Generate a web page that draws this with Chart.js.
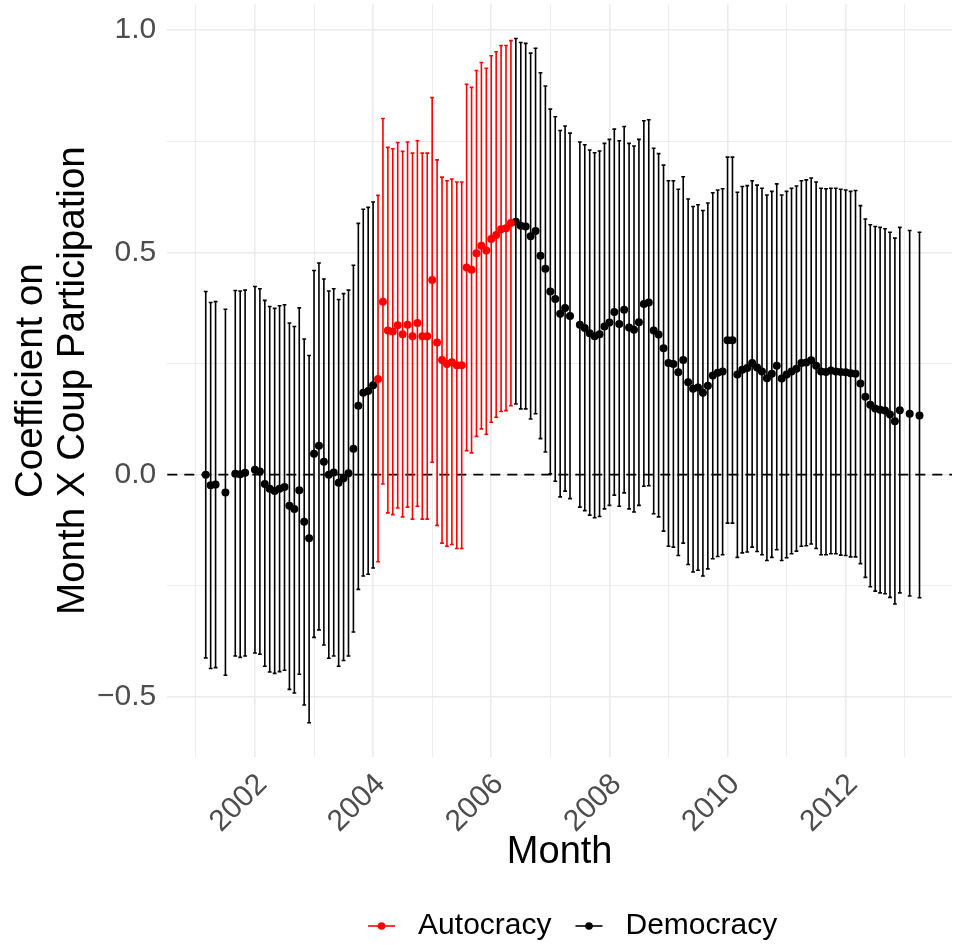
<!DOCTYPE html>
<html><head><meta charset="utf-8">
<script src="https://cdn.jsdelivr.net/npm/chart.js@4.4.1/dist/chart.umd.min.js"></script>
<style>html,body{margin:0;padding:0;background:#fff;} canvas{display:block;}</style>
</head><body>
<canvas id="c" width="956" height="945" style="width:956px;height:945px"></canvas>
<script>
const seriesNames = ["Autocracy", "Democracy"];
const seriesColors = ["#FF0000", "#000000"];
const xTitle = "Month";
const yTitle = ["Coefficient on", "Month X Coup Participation"];

const autoMonths = ["2004-02","2004-03","2004-04","2004-05","2004-06","2004-07","2004-08","2004-09","2004-10","2004-11","2004-12",
  "2005-01","2005-02","2005-03","2005-04","2005-05","2005-06","2005-07","2005-08","2005-09","2005-10","2005-11","2005-12",
  "2006-01","2006-02","2006-03","2006-04","2006-05"];
const autoEst = [0.215,0.389,0.324,0.322,0.336,0.316,0.337,0.311,0.341,0.311,0.311,
  0.438,0.297,0.258,0.249,0.253,0.246,0.246,0.466,0.461,0.498,0.515,0.504,
  0.530,0.539,0.552,0.554,0.566];
const autoLo = [-0.196,-0.021,-0.086,-0.090,-0.075,-0.095,-0.073,-0.100,-0.071,-0.100,-0.100,
  0.028,-0.114,-0.154,-0.161,-0.157,-0.166,-0.166,0.054,0.049,0.086,0.103,0.091,
  0.118,0.129,0.142,0.144,0.155];
const autoHi = [0.628,0.801,0.736,0.733,0.747,0.727,0.748,0.723,0.751,0.723,0.723,
  0.848,0.708,0.669,0.661,0.665,0.658,0.658,0.878,0.871,0.909,0.927,0.914,
  0.942,0.951,0.965,0.965,0.976];

const demoMonths = ["2001-03","2001-04","2001-05","2001-07","2001-09","2001-10","2001-11",
  "2002-01","2002-02","2002-03","2002-04","2002-05","2002-06","2002-07","2002-08","2002-09","2002-10","2002-11","2002-12",
  "2003-01","2003-02","2003-03","2003-04","2003-05","2003-06","2003-07","2003-08","2003-09","2003-10","2003-11","2003-12",
  "2004-01",
  "2006-06","2006-07","2006-08","2006-09","2006-10","2006-11","2006-12",
  "2007-01","2007-02","2007-03","2007-04","2007-05","2007-07","2007-08","2007-09","2007-10","2007-11","2007-12",
  "2008-01","2008-02","2008-03","2008-04","2008-05","2008-06","2008-07","2008-08","2008-09","2008-10","2008-11","2008-12",
  "2009-01","2009-02","2009-03","2009-04","2009-05","2009-06","2009-07","2009-08","2009-09","2009-10","2009-11","2009-12",
  "2010-01","2010-02","2010-03","2010-04","2010-05","2010-06","2010-07","2010-08","2010-09","2010-10","2010-11","2010-12",
  "2011-01","2011-02","2011-03","2011-04","2011-05","2011-06","2011-07","2011-08","2011-09","2011-10","2011-11","2011-12",
  "2012-01","2012-02","2012-03","2012-04","2012-05","2012-06","2012-07","2012-08","2012-09","2012-10","2012-11","2012-12",
  "2013-02","2013-04"];
const demoEst = [0.000,-0.024,-0.022,-0.040,0.002,0.001,0.004,
  0.011,0.007,-0.021,-0.032,-0.037,-0.032,-0.028,-0.070,-0.077,-0.035,-0.106,-0.143,
  0.047,0.065,0.029,0.000,0.005,-0.018,-0.008,0.003,0.058,0.155,0.184,0.188,
  0.201,
  0.569,0.560,0.558,0.536,0.548,0.492,0.463,
  0.412,0.395,0.362,0.375,0.357,0.337,0.330,0.318,0.311,0.316,0.333,
  0.342,0.366,0.339,0.371,0.331,0.326,0.343,0.384,0.387,0.324,0.315,0.284,
  0.251,0.249,0.230,0.258,0.208,0.193,0.196,0.184,0.200,0.223,0.229,0.232,
  0.302,0.302,0.225,0.236,0.240,0.251,0.241,0.232,0.217,0.227,0.245,0.216,
  0.225,0.232,0.238,0.251,0.252,0.257,0.245,0.232,0.231,0.234,0.232,0.231,
  0.230,0.228,0.227,0.205,0.175,0.157,0.149,0.146,0.144,0.135,0.120,0.145,
  0.137,0.133];
const demoLo = [-0.412,-0.436,-0.434,-0.451,-0.408,-0.411,-0.408,
  -0.401,-0.404,-0.431,-0.444,-0.447,-0.443,-0.440,-0.483,-0.491,-0.449,-0.518,-0.558,
  -0.366,-0.349,-0.383,-0.413,-0.408,-0.431,-0.418,-0.408,-0.354,-0.258,-0.228,-0.224,
  -0.210,
  0.159,0.148,0.148,0.125,0.137,0.081,0.051,
  0.002,-0.015,-0.050,-0.037,-0.054,-0.073,-0.081,-0.091,-0.097,-0.094,-0.077,
  -0.069,-0.046,-0.071,-0.041,-0.077,-0.084,-0.069,-0.026,-0.025,-0.088,-0.095,-0.127,
  -0.161,-0.163,-0.182,-0.154,-0.202,-0.219,-0.215,-0.228,-0.212,-0.189,-0.184,-0.180,
  -0.109,-0.109,-0.186,-0.176,-0.174,-0.163,-0.173,-0.180,-0.193,-0.186,-0.169,-0.193,
  -0.187,-0.178,-0.172,-0.161,-0.160,-0.156,-0.166,-0.180,-0.180,-0.178,-0.178,-0.181,
  -0.182,-0.185,-0.185,-0.200,-0.231,-0.252,-0.262,-0.266,-0.268,-0.276,-0.291,-0.266,
  -0.273,-0.277];
const demoHi = [0.412,0.387,0.389,0.372,0.414,0.413,0.415,
  0.423,0.418,0.392,0.378,0.374,0.380,0.382,0.341,0.333,0.375,0.305,0.268,
  0.459,0.476,0.440,0.413,0.418,0.394,0.407,0.415,0.471,0.565,0.597,0.601,
  0.613,
  0.981,0.972,0.970,0.948,0.959,0.904,0.874,
  0.822,0.805,0.774,0.784,0.768,0.748,0.742,0.730,0.724,0.728,0.745,
  0.754,0.777,0.751,0.783,0.745,0.739,0.754,0.796,0.798,0.734,0.722,0.696,
  0.661,0.661,0.642,0.670,0.620,0.603,0.607,0.594,0.611,0.634,0.640,0.643,
  0.714,0.714,0.635,0.648,0.650,0.661,0.651,0.644,0.629,0.637,0.654,0.629,
  0.637,0.644,0.649,0.661,0.663,0.667,0.658,0.644,0.643,0.644,0.644,0.642,
  0.640,0.637,0.639,0.605,0.575,0.562,0.558,0.556,0.553,0.545,0.532,0.556,
  0.549,0.545];

const FONT = '"Liberation Sans", Arial, Helvetica, sans-serif';

function monthToYear(s) {
  const parts = s.split('-').map(Number);
  return parts[0] + (parts[1] - 1) / 12;
}
function buildPoints(months, est) {
  return months.map((m, i) => ({ x: monthToYear(m), y: est[i] }));
}

const bgPlugin = {
  id: 'bg',
  beforeDraw(chart) {
    const c = chart.ctx;
    c.save(); c.fillStyle = '#ffffff'; c.fillRect(0, 0, chart.width, chart.height); c.restore();
  }
};

const errorBarPlugin = {
  id: 'errbars',
  beforeDatasetsDraw(chart) {
    const c = chart.ctx, xs = chart.scales.x, ys = chart.scales.y, ca = chart.chartArea;
    c.save();
    c.strokeStyle = '#000000';
    c.lineWidth = 1.6;
    c.setLineDash([10, 7]);
    const y0 = ys.getPixelForValue(0);
    c.beginPath(); c.moveTo(ca.left, y0); c.lineTo(ca.right, y0); c.stroke();
    c.setLineDash([]);
    chart.data.datasets.forEach(ds => {
      c.strokeStyle = ds.pointBackgroundColor;
      c.lineWidth = 1.6;
      ds.data.forEach((p, i) => {
        const px = xs.getPixelForValue(p.x);
        const pl = ys.getPixelForValue(ds.errLo[i]);
        const ph = ys.getPixelForValue(ds.errHi[i]);
        c.beginPath();
        c.moveTo(px, pl); c.lineTo(px, ph);
        c.moveTo(px - 1.9, pl); c.lineTo(px + 1.9, pl);
        c.moveTo(px - 1.9, ph); c.lineTo(px + 1.9, ph);
        c.stroke();
      });
    });
    c.restore();
  }
};

const legendPlugin = {
  id: 'ggLegend',
  afterDraw(chart) {
    const c = chart.ctx, ca = chart.chartArea;
    c.save();
    c.font = '30px ' + FONT;
    const keyW = 27, keyGap = 23, itemGap = 24;
    const widths = seriesNames.map(n => c.measureText(n).width);
    const total = seriesNames.length * (keyW + keyGap) + widths.reduce((a, b) => a + b, 0) + itemGap * (seriesNames.length - 1);
    let x = (ca.left + ca.right) / 2 + 13 - total / 2;
    const y = chart.height - 19;
    seriesNames.forEach((n, i) => {
      c.strokeStyle = seriesColors[i];
      c.fillStyle = seriesColors[i];
      c.lineWidth = 1.6;
      c.beginPath(); c.moveTo(x, y); c.lineTo(x + keyW, y); c.stroke();
      c.beginPath(); c.arc(x + keyW / 2, y, 3.8, 0, Math.PI * 2); c.fill();
      x += keyW + keyGap;
      c.fillStyle = '#000000';
      c.textAlign = 'left'; c.textBaseline = 'middle';
      c.fillText(n, x, y);
      x += widths[i] + itemGap;
    });
    c.restore();
  }
};

function isHalf(v) { return Math.abs(v * 2 - Math.round(v * 2)) < 1e-6; }
function fmtY(v) {
  const s = Math.abs(v).toFixed(1);
  return v < -1e-9 ? '\u2212' + s : s;
}
function noPad(s) { s.paddingTop = 0; s.paddingBottom = 0; s.paddingLeft = 0; s.paddingRight = 0; }

new Chart(document.getElementById('c'), {
  type: 'scatter',
  data: {
    datasets: [
      { label: seriesNames[0], data: buildPoints(autoMonths, autoEst), errLo: autoLo, errHi: autoHi,
        pointBackgroundColor: seriesColors[0], pointBorderWidth: 0, pointRadius: 4, pointHoverRadius: 4 },
      { label: seriesNames[1], data: buildPoints(demoMonths, demoEst), errLo: demoLo, errHi: demoHi,
        pointBackgroundColor: seriesColors[1], pointBorderWidth: 0, pointRadius: 4, pointHoverRadius: 4 }
    ]
  },
  options: {
    responsive: false,
    animation: false,
    layout: { padding: { top: 4.2, bottom: 73, left: 0, right: 0 } },
    plugins: { legend: { display: false }, tooltip: { enabled: false } },
    scales: {
      x: {
        type: 'linear', min: 2000.516, max: 2013.80,
        afterFit(s) { s.height = 115; noPad(s); },
        border: { display: false },
        grid: { color: '#EBEBEB', drawTicks: false,
          lineWidth: ctx => (ctx.tick && Math.round(ctx.tick.value) % 2 === 0) ? 1.6 : 0.9 },
        ticks: { stepSize: 1, includeBounds: false, autoSkip: false, minRotation: 45, maxRotation: 45,
          padding: 12, labelOffset: 7.4, color: '#4D4D4D', font: { family: FONT, size: 30, lineHeight: 1 },
          callback: v => (Math.round(v) % 2 === 0) ? String(Math.round(v)) : '' },
        title: { display: true, text: xTitle, color: '#000000', font: { family: FONT, size: 38, lineHeight: 1 },
          padding: { top: 0, bottom: 0 } }
      },
      y: {
        type: 'linear', min: -0.635, max: 1.058,
        afterFit(s) { s.width = 167.3; noPad(s); },
        border: { display: false },
        grid: { color: '#EBEBEB', drawTicks: false,
          lineWidth: ctx => (ctx.tick && isHalf(ctx.tick.value)) ? 1.6 : 0.9 },
        ticks: { stepSize: 0.25, includeBounds: false, padding: 11, color: '#4D4D4D',
          font: { family: FONT, size: 30 },
          callback: v => isHalf(v) ? fmtY(v) : '' },
        title: { display: true, text: yTitle, color: '#000000', font: { family: FONT, size: 38.5, lineHeight: 1.1 },
          padding: { top: 10, bottom: 0 } }
      }
    }
  },
  plugins: [bgPlugin, errorBarPlugin, legendPlugin]
});
</script>
</body></html>
